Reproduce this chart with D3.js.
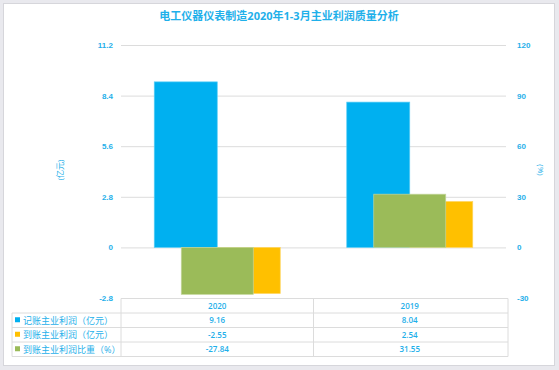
<!DOCTYPE html>
<html>
<head>
<meta charset="utf-8">
<script src="https://cdn.jsdelivr.net/npm/d3@7"></script>
<style>
  body { margin: 0; background: #e9e9ee; }
  svg { display: block; font-family: "Open Sans", "Noto Sans CJK SC", sans-serif; }
</style>
</head>
<body>
<svg id="chart" width="559" height="370"></svg>
<script>
var categories = ["2020", "2019"];
var bookProfit = [9.16, 8.04];     // 记账主业利润（亿元）
var cashProfit = [-2.55, 2.54];    // 到账主业利润（亿元）
var cashShare = [-27.84, 31.55];   // 到账主业利润比重（%）
var leftTicks = [-2.8, 0, 2.8, 5.6, 8.4, 11.2];
var rightTicks = [-30, 0, 30, 60, 90, 120];
var rowNames = ["记账主业利润（亿元）", "到账主业利润（亿元）", "到账主业利润比重（%）"];

var blue = "#00b0f0", orange = "#ffc000", green = "#9bbb59", textColor = "#1fb0ea";

var svg = d3.select("#chart"),
    plot = {left: 121, right: 506, top: 45, bottom: 298};

// white card
svg.append("rect")
    .attr("x", 3.5).attr("y", 3.5).attr("width", 551).attr("height", 362)
    .attr("fill", "#fff").attr("stroke", "#d6d6db");

svg.append("text")
    .attr("x", 279).attr("y", 20)
    .attr("text-anchor", "middle")
    .attr("fill", textColor)
    .style("font-size", "11px").style("font-weight", "bold")
    .text("电工仪器仪表制造2020年1-3月主业利润质量分析");

var x = d3.scaleBand().domain(categories).range([plot.left, plot.right]);
var yLeft = d3.scaleLinear().domain([-2.8, 11.2]).range([plot.bottom, plot.top]);
var yRight = d3.scaleLinear().domain([-30, 120]).range([plot.bottom, plot.top]);
var sub = d3.scaleBand().domain([0, 1]);

// gridlines + left axis
var leftAxis = d3.axisLeft(yLeft).tickValues(leftTicks).tickSize(-(plot.right - plot.left)).tickPadding(8)
    .tickFormat(function(d) { return String(+d.toFixed(1)); });
svg.append("g")
    .attr("transform", "translate(" + plot.left + ",0)")
    .call(leftAxis)
    .call(function(g) {
      g.select(".domain").remove();
      g.selectAll(".tick line").attr("stroke", "#dcdcdc");
      g.selectAll(".tick text").attr("fill", textColor).style("font-size", "8px").style("font-weight", "600");
    });

var rightAxis = d3.axisRight(yRight).tickValues(rightTicks).tickSize(0).tickPadding(11).tickFormat(String);
svg.append("g")
    .attr("transform", "translate(" + plot.right + ",0)")
    .call(rightAxis)
    .call(function(g) {
      g.select(".domain").remove();
      g.selectAll(".tick text").attr("fill", textColor).style("font-size", "8px").style("font-weight", "600");
    });

// axis titles
svg.append("text")
    .attr("transform", "translate(63,170) rotate(-90)")
    .attr("text-anchor", "middle").attr("fill", textColor)
    .style("font-size", "8px")
    .text("(亿元)");
svg.append("text")
    .attr("transform", "translate(538,170) rotate(90)")
    .attr("text-anchor", "middle").attr("fill", textColor)
    .style("font-size", "8px")
    .text("(%)");

// primary bars: blue + orange side by side
var groups = svg.append("g").selectAll("g")
    .data(categories)
    .enter().append("g");

groups.each(function(c, i) {
  var cx = x(c) + x.bandwidth() / 2;
  sub.range([cx - 63, cx + 63]);
  var g = d3.select(this);
  [[bookProfit[i], blue, "#59cdf6"], [cashProfit[i], orange, "#ffd560"]].forEach(function(s, k) {
    g.append("rect")
      .attr("x", sub(k))
      .attr("width", sub.bandwidth())
      .attr("y", yLeft(Math.max(0, s[0])))
      .attr("height", Math.abs(yLeft(s[0]) - yLeft(0)))
      .attr("fill", s[1]).attr("stroke", s[2]).attr("stroke-width", 0.7);
  });
  // secondary series on top
  g.append("rect")
    .attr("x", cx - 36)
    .attr("width", 72)
    .attr("y", yRight(Math.max(0, cashShare[i])))
    .attr("height", Math.abs(yRight(cashShare[i]) - yRight(0)))
    .attr("fill", green).attr("stroke", "#c3d69b").attr("stroke-width", 0.7);
});

// data table
var rowH = 14.5, tTop = plot.bottom + 0.5, tLeft = 12;
var rows = [bookProfit, cashProfit, cashShare];
var keyColors = [blue, orange, green];
var table = svg.append("g").attr("stroke", "#dcdcdc").attr("fill", "none");

// header row lines (only over category columns)
table.append("line").attr("x1", plot.left).attr("x2", plot.right + 2).attr("y1", tTop).attr("y2", tTop);
for (var r = 1; r <= 4; r++) {
  table.append("line").attr("x1", tLeft).attr("x2", plot.right + 2)
    .attr("y1", tTop + r * rowH).attr("y2", tTop + r * rowH);
}
table.append("line").attr("x1", tLeft).attr("x2", tLeft).attr("y1", tTop + rowH).attr("y2", tTop + 4 * rowH);
[plot.left, x("2019"), plot.right + 2].forEach(function(xx) {
  table.append("line").attr("x1", xx).attr("x2", xx).attr("y1", tTop).attr("y2", tTop + 4 * rowH);
});

svg.append("g").selectAll("text")
    .data(categories)
    .enter().append("text")
    .attr("x", function(d) { return x(d) + x.bandwidth() / 2; })
    .attr("y", tTop + rowH / 2 + 3)
    .attr("text-anchor", "middle").attr("fill", textColor)
    .style("font-size", "8px").style("font-weight", "600")
    .text(function(d) { return d; });

rows.forEach(function(vals, r) {
  var yy = tTop + (r + 1) * rowH + rowH / 2;
  svg.append("rect")
    .attr("x", 15).attr("y", yy - 3).attr("width", 5).attr("height", 5)
    .attr("fill", keyColors[r]);
  svg.append("text")
    .attr("x", 23).attr("y", yy + 3.5)
    .attr("fill", textColor).style("font-size", "9px")
    .text(rowNames[r]);
  categories.forEach(function(c, i) {
    svg.append("text")
      .attr("x", x(c) + x.bandwidth() / 2).attr("y", yy + 3)
      .attr("text-anchor", "middle").attr("fill", textColor)
      .style("font-size", "8px").style("font-weight", "600")
      .text(vals[i].toFixed(2));
  });
});
</script>
</body>
</html>
